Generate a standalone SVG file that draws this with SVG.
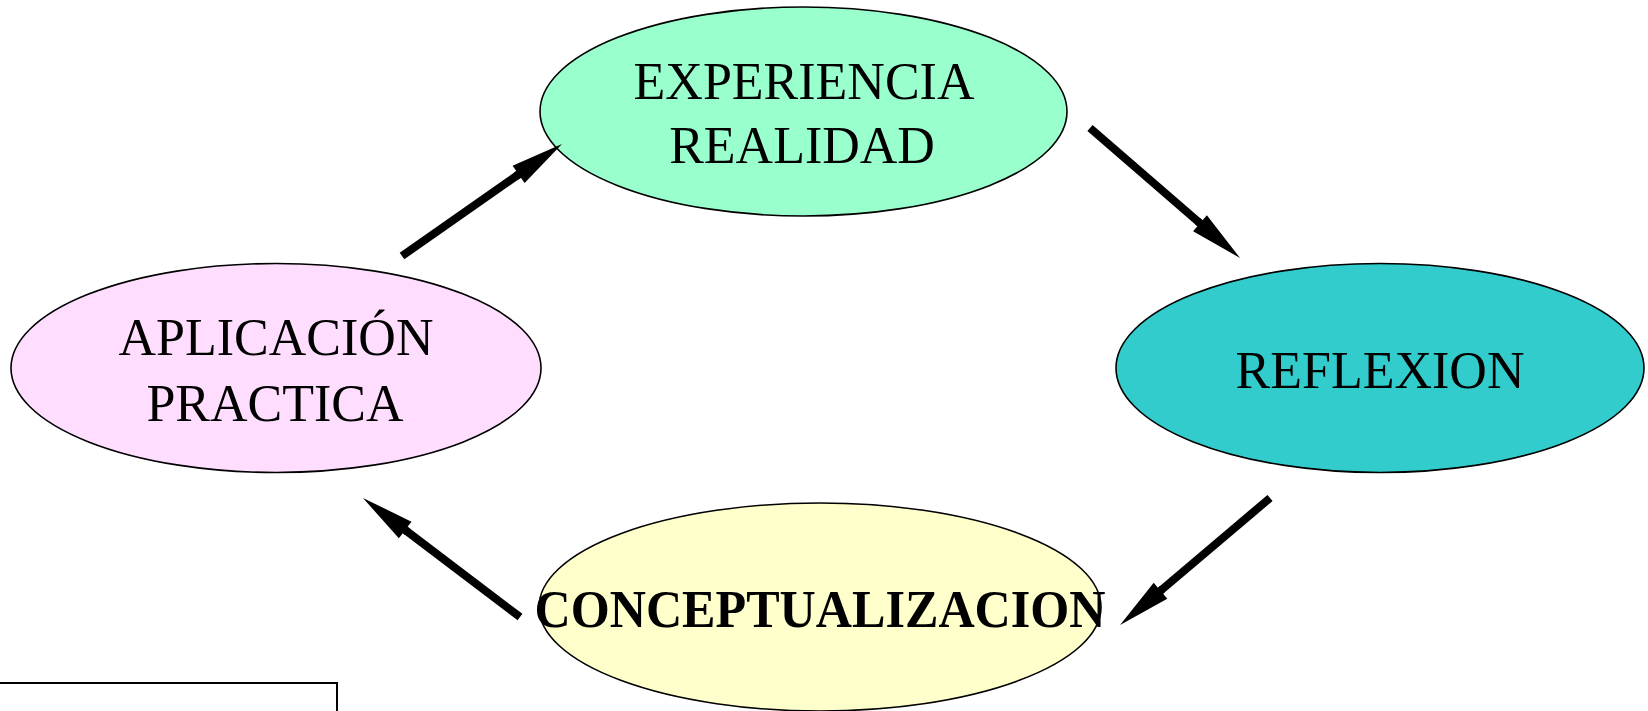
<svg xmlns="http://www.w3.org/2000/svg" width="1648" height="711" viewBox="0 0 1648 711">
  <style>
    .node { stroke: #000; stroke-width: 1.6; }
    .lbl { font-family: "Liberation Serif", "Times New Roman", serif; font-size: 52px; fill: #000; text-anchor: middle; }
    .bold { font-weight: bold; }
    .conn { stroke: #000; stroke-width: 8; fill: none; marker-end: url(#head); }
  </style>
  <defs>
    <marker id="head" markerUnits="userSpaceOnUse" markerWidth="60" markerHeight="24" viewBox="-3 -12 60 24" refX="0" refY="0" orient="auto">
      <path d="M-3,-4 L0,-4 L0,-10.5 L53,0 L0,10.5 L0,4 L-3,4 Z" fill="#000"/>
    </marker>
  </defs>
  <rect width="1648" height="711" fill="#fff"/>

  <g id="node-experiencia">
    <ellipse class="node" cx="803.5" cy="111.5" rx="263.5" ry="104.5" fill="#99FFCC"/>
    <text class="lbl" x="804" y="99">EXPERIENCIA</text>
    <text class="lbl" x="802" y="163">REALIDAD</text>
  </g>

  <g id="node-reflexion">
    <ellipse class="node" cx="1380" cy="368" rx="264" ry="104.5" fill="#33CCCC"/>
    <text class="lbl" x="1380" y="388">REFLEXION</text>
  </g>

  <g id="node-conceptualizacion">
    <ellipse class="node" cx="820" cy="607" rx="281" ry="104" fill="#FFFFCC"/>
    <text class="lbl bold" x="820" y="627" font-size="56" textLength="571" lengthAdjust="spacingAndGlyphs">CONCEPTUALIZACION</text>
  </g>

  <g id="node-aplicacion">
    <ellipse class="node" cx="276" cy="368" rx="265" ry="104.5" fill="#FFDDFF"/>
    <text class="lbl" x="276" y="355">APLICACIÓN</text>
    <text class="lbl" x="275" y="421">PRACTICA</text>
  </g>

  <g id="connectors">
    <line class="conn" x1="402" y1="256" x2="518.6" y2="174.4"/>
    <line class="conn" x1="1090" y1="128" x2="1200" y2="223.3"/>
    <line class="conn" x1="1270" y1="498" x2="1160.5" y2="590.7"/>
    <line class="conn" x1="520" y1="617" x2="405.2" y2="530"/>
  </g>

  <rect x="-3" y="683" width="340" height="60" fill="none" stroke="#000" stroke-width="2"/>
</svg>
